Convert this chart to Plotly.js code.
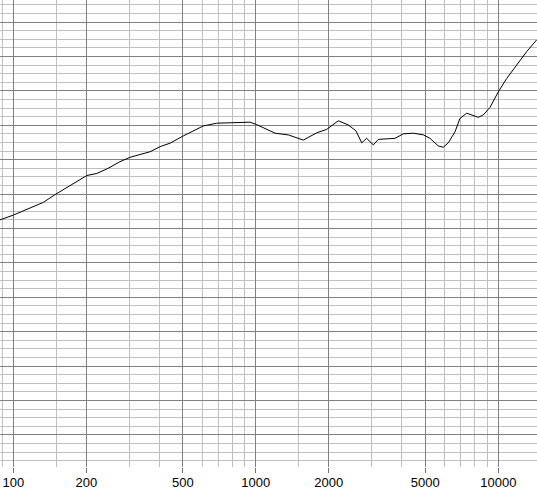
<!DOCTYPE html>
<html>
<head>
<meta charset="utf-8">
<script src="https://cdn.plot.ly/plotly-3.0.1.min.js"></script>
<style>
html,body{margin:0;padding:0;background:#fff;}
#chart{width:537px;height:502px;}
</style>
</head>
<body>
<div id="chart"></div>
<script>
// Frequency response (Hz, dB)
var freqHz = [88, 100, 133, 149, 201, 221, 243, 275, 303, 366, 403, 443, 502, 607, 690, 834, 946, 1008, 1200, 1361, 1570, 1783, 1960, 2188, 2405, 2587, 2734, 2864, 3052, 3199, 3750, 4055, 4462, 4908, 5228, 5656, 5929, 6221, 6630, 6950, 7409, 8271, 8670, 9243, 10000, 10830, 11906, 13092, 14390];
var levelDb = [62.5, 63.9, 67.6, 69.9, 75.4, 76.0, 77.3, 79.4, 80.7, 82.3, 83.8, 84.8, 86.9, 89.8, 90.6, 90.9, 90.9, 90.2, 87.7, 87.2, 85.7, 87.8, 88.8, 91.3, 90.1, 88.4, 84.9, 86.2, 84.3, 85.9, 86.2, 87.5, 87.7, 87.2, 86.2, 84.0, 83.6, 84.9, 88.1, 92.0, 93.5, 92.3, 93.0, 95.2, 99.7, 103.6, 107.5, 111.4, 114.8];

var majorTicks = [100, 200, 500, 1000, 2000, 5000, 10000];
var majorLabels = ["100", "200", "500", "1000", "2000", "5000", "10000"];
var minorTicks = [90, 150, 300, 400, 600, 700, 800, 900, 1500, 3000, 4000, 6000, 7000, 8000, 9000];

var trace = {
  x: freqHz,
  y: levelDb,
  type: 'scatter',
  mode: 'lines',
  line: {color: '#000000', width: 1},
  hoverinfo: 'none'
};

var layout = {
  width: 537,
  height: 502,
  margin: {l: 0, r: 0, t: 0, b: 35, pad: 0},
  paper_bgcolor: '#ffffff',
  plot_bgcolor: '#ffffff',
  showlegend: false,
  xaxis: {
    type: 'log',
    range: [Math.log10(88.1), 4.1596],
    tickmode: 'array',
    tickvals: majorTicks,
    ticktext: majorLabels,
    ticks: 'outside',
    ticklen: 5,
    tickwidth: 1,
    tickcolor: '#707070',
    ticklabelstandoff: -2,
    showgrid: true,
    gridcolor: '#808080',
    gridwidth: 1,
    showline: false,
    zeroline: false,
    tickfont: {family: 'Liberation Sans Narrow, Liberation Sans, Arial, sans-serif', size: 13, color: '#000000'},
    minor: {
      tickmode: 'array',
      tickvals: minorTicks,
      showgrid: true,
      gridcolor: '#c0c0c0',
      gridwidth: 1,
      ticks: ''
    },
    fixedrange: true
  },
  yaxis: {
    range: [-9.3, 126.4],
    tickmode: 'linear',
    tick0: 0,
    dtick: 10,
    showticklabels: false,
    ticks: '',
    showgrid: true,
    gridcolor: '#808080',
    gridwidth: 1,
    zeroline: false,
    showline: false,
    minor: {
      tick0: 0,
      dtick: 2.5,
      showgrid: true,
      gridcolor: '#c0c0c0',
      gridwidth: 1,
      ticks: ''
    },
    fixedrange: true
  }
};

Plotly.newPlot('chart', [trace], layout, {staticPlot: true, displayModeBar: false});
</script>
</body>
</html>
